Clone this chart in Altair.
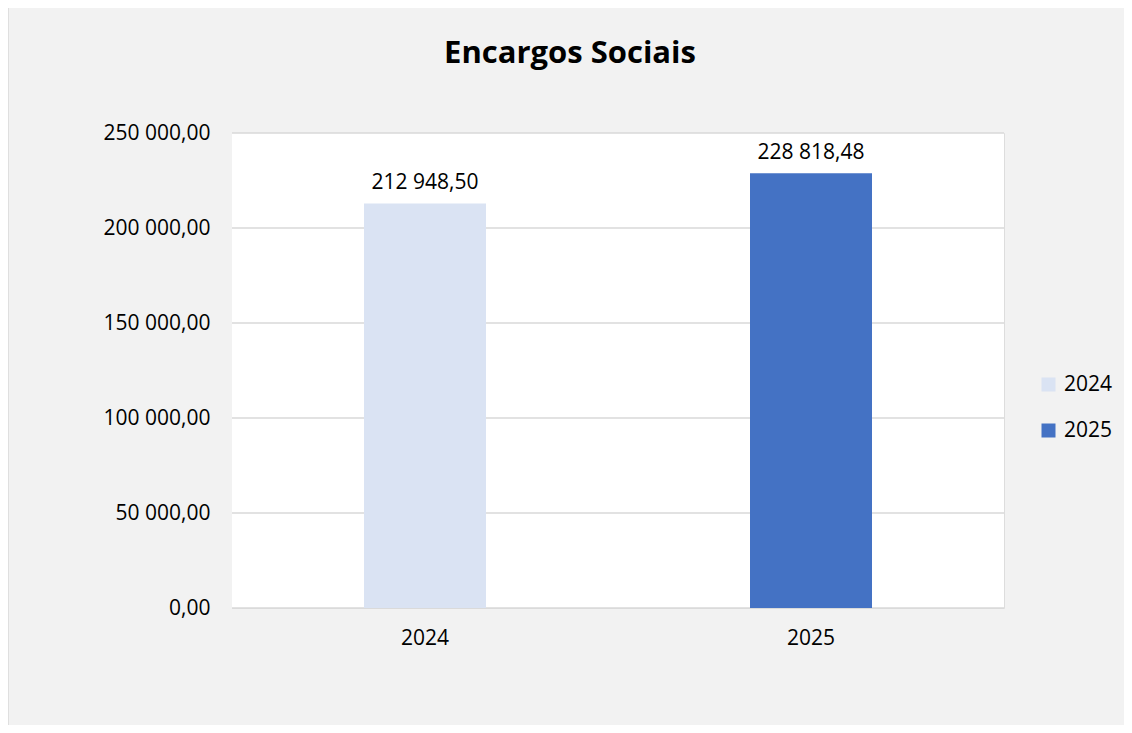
import altair as alt
import pandas as pd

years = ["2024", "2025"]
values = [212948.50, 228818.48]
colors = ["#dae3f3", "#4472c4"]
y_ticks = [0, 50000, 100000, 150000, 200000, 250000]
title_text = "Encargos Sociais"

df = pd.DataFrame({"Ano": years, "Valor": values})
grid_df = pd.DataFrame({"g": y_ticks})
deco = pd.DataFrame({"t": [title_text]})

FONT = "Open Sans"
FS = 21
Y_SCALE = alt.Scale(domain=[0, 250000], nice=False)
Y_AXIS = alt.Axis(title=None, values=y_ticks, format=",.2f", ticks=False,
                  domain=False, grid=False,
                  labelFontSize=FS, labelColor="#000000", labelFont=FONT,
                  labelPadding=22)

# outer chart frame (top/left visible as in the reference)
frame = alt.Chart(deco).mark_rect(
    filled=False, stroke="#d9d9d9", strokeWidth=1.5
).encode(
    x=alt.value(-224), x2=alt.value(1000), y=alt.value(-126), y2=alt.value(700)
)

# white plot area
plot_bg = alt.Chart(deco).mark_rect(fill="#ffffff", strokeOpacity=0).encode(
    x=alt.value(0), x2=alt.value(772), y=alt.value(0), y2=alt.value(475)
)

# horizontal gridlines
grid = alt.Chart(grid_df).mark_rule(color="#d9d9d9", strokeWidth=1.5).encode(
    y=alt.Y("g:Q", scale=Y_SCALE, axis=Y_AXIS)
)

base = alt.Chart(df)

bars = base.mark_bar(size=122).encode(
    x=alt.X("Ano:N", sort=years,
            scale=alt.Scale(paddingInner=0, paddingOuter=0),
            axis=alt.Axis(title=None, labelAngle=0, ticks=False, domain=False,
                          labelFontSize=FS, labelColor="#000000", labelFont=FONT,
                          labelPadding=19, grid=False)),
    y=alt.Y("Valor:Q", scale=Y_SCALE, axis=Y_AXIS),
    color=alt.Color("Ano:N", sort=years,
                    scale=alt.Scale(domain=years, range=colors),
                    legend=alt.Legend(title=None, orient="none", legendX=806, legendY=241,
                                      symbolType="square", symbolSize=196,
                                      symbolStrokeWidth=0, labelFontSize=FS,
                                      labelFont=FONT, labelColor="#000000",
                                      rowPadding=24, padding=0, labelOffset=5)),
)

labels = base.mark_text(baseline="bottom", dy=-10, fontSize=FS, font=FONT,
                        color="#000000").encode(
    x=alt.X("Ano:N", sort=years),
    y=alt.Y("Valor:Q", scale=Y_SCALE),
    text=alt.Text("Valor:Q", format=",.2f"),
)

title = alt.Chart(deco).mark_text(
    fontSize=31, font=FONT, fontWeight="bold", color="#000000",
    align="center", baseline="alphabetic"
).encode(
    x=alt.value(338), y=alt.value(-70), text="t:N"
)

chart = alt.layer(frame, plot_bg, grid, bars, labels, title).properties(
    width=772,
    height=475,
    padding={"left": 224, "top": 125, "right": 120, "bottom": 117},
    autosize=alt.AutoSizeParams(type="none"),
    background="#f2f2f2",
).configure_view(
    stroke="transparent", strokeWidth=0
).configure(
    locale={"number": {"decimal": ",", "thousands": " ", "grouping": [3],
                       "currency": ["", ""]}}
)

chart.save("out.html", embed_options={"renderer": "svg", "actions": False})
